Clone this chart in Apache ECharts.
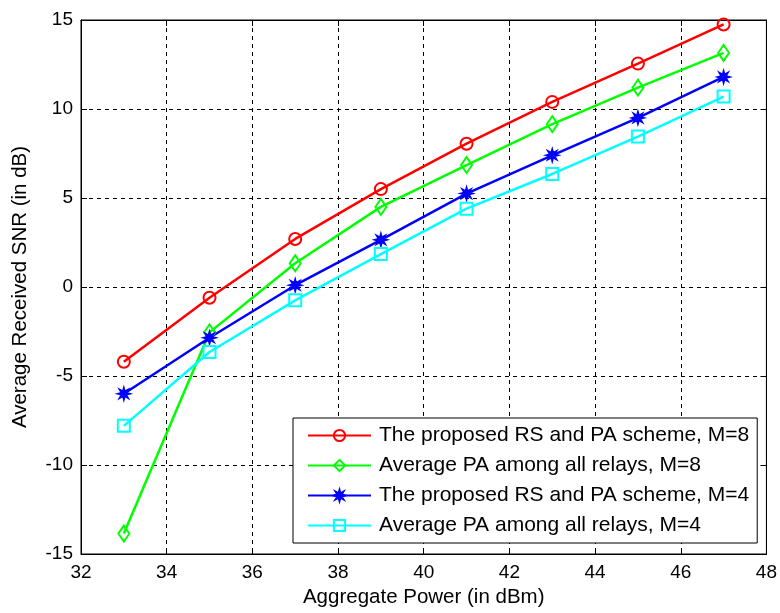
<!DOCTYPE html>
<html>
<head>
<meta charset="utf-8">
<script src="https://cdn.jsdelivr.net/npm/echarts@6/dist/echarts.min.js"></script>
<style>html,body{margin:0;padding:0;background:#fff;}#c{width:780px;height:613px;}</style>
</head>
<body>
<div id="c"></div>
<script>
const xValues = [33, 35, 37, 39, 41, 43, 45, 47];
const redM8 = [-4.2, -0.6, 2.7, 5.5, 8.05, 10.4, 12.55, 14.75];
const greenM8 = [-13.85, -2.55, 1.33, 4.5, 6.85, 9.15, 11.2, 13.15];
const blueM4 = [-6.0, -2.85, 0.1, 2.65, 5.25, 7.4, 9.5, 11.8];
const cyanM4 = [-7.8, -3.65, -0.75, 1.85, 4.4, 6.35, 8.45, 10.7];
const seriesNames = [
  'The proposed RS and PA scheme, M=8',
  'Average PA among all relays, M=8',
  'The proposed RS and PA scheme, M=4',
  'Average PA among all relays, M=4'
];
const xTicks = [32, 34, 36, 38, 40, 42, 44, 46, 48];
const yTicks = [-15, -10, -5, 0, 5, 10, 15];
const xTitle = 'Aggregate Power (in dBm)';
const yTitle = 'Average Received SNR (in dB)';

const FONT = '"Liberation Sans", Arial, sans-serif';
const pair = arr => xValues.map((x, i) => [x, arr[i]]);
const starPath = 'path://M10,0 L4,1.66 L7.07,7.07 L1.66,4 L0,10 L-1.66,4 L-7.07,7.07 L-4,1.66 L-10,0 L-4,-1.66 L-7.07,-7.07 L-1.66,-4 L0,-10 L1.66,-4 L7.07,-7.07 L4,-1.66 Z';

function mkSeries(name, data, color, symbol, size, filled) {
  return {
    name: name,
    type: 'line',
    data: pair(data),
    symbol: symbol,
    symbolSize: size,
    showSymbol: true,
    animation: false,
    lineStyle: { color: color, width: 2.5 },
    itemStyle: filled
      ? { color: color, borderColor: color, borderWidth: 1.5 }
      : { color: 'rgba(255,255,255,0)', borderColor: color, borderWidth: 2 },
    emphasis: { disabled: true }
  };
}

const chart = echarts.init(document.getElementById('c'), null, { renderer: 'canvas' });
const axisText = { color: '#000', fontFamily: FONT, fontSize: 19 };
const tickStyle = { show: true, inside: true, length: 6, lineStyle: { color: '#000' } };
chart.setOption({
  backgroundColor: '#fff',
  animation: false,
  grid: { left: 81, top: 20, right: 13, bottom: 59, show: true, borderColor: '#000', borderWidth: 1, containLabel: false },
  legend: {
    orient: 'vertical',
    left: 293,
    top: 418,
    padding: [7, 8, 7, 14],
    itemWidth: 63,
    itemHeight: 14,
    itemGap: 9,
    backgroundColor: '#fff',
    borderColor: '#000',
    borderWidth: 1,
    borderRadius: 0,
    textStyle: { color: '#000', fontFamily: FONT, fontSize: 21, padding: [0, 0, 0, 3] },
    data: seriesNames
  },
  xAxis: [{
    type: 'value', min: xTicks[0], max: xTicks[xTicks.length - 1], interval: 2,
    position: 'bottom',
    name: xTitle, nameLocation: 'middle', nameGap: 26,
    nameTextStyle: { color: '#000', fontFamily: FONT, fontSize: 20.5 },
    axisLine: { show: true, onZero: false, lineStyle: { color: '#000', width: 1 } },
    axisTick: tickStyle,
    axisLabel: Object.assign({ margin: 9 }, axisText),
    splitLine: { show: true, lineStyle: { color: '#000', type: [4, 4], width: 1 } }
  }, {
    type: 'value', min: xTicks[0], max: xTicks[xTicks.length - 1], interval: 2,
    position: 'top',
    axisLine: { show: true, onZero: false, lineStyle: { color: '#000' } },
    axisTick: tickStyle,
    axisLabel: { show: false }, splitLine: { show: false }
  }],
  yAxis: [{
    type: 'value', min: yTicks[0], max: yTicks[yTicks.length - 1], interval: 5,
    position: 'left',
    name: yTitle, nameLocation: 'middle', nameGap: 50,
    nameTextStyle: { color: '#000', fontFamily: FONT, fontSize: 20.5 },
    axisLine: { show: true, onZero: false, lineStyle: { color: '#000', width: 1 } },
    axisTick: tickStyle,
    axisLabel: Object.assign({ margin: 8 }, axisText),
    splitLine: { show: true, lineStyle: { color: '#000', type: [4, 4], width: 1 } }
  }, {
    type: 'value', min: yTicks[0], max: yTicks[yTicks.length - 1], interval: 5,
    position: 'right',
    axisLine: { show: true, onZero: false, lineStyle: { color: '#000' } },
    axisTick: tickStyle,
    axisLabel: { show: false }, splitLine: { show: false }
  }],
  series: [
    mkSeries(seriesNames[0], redM8, '#ff0000', 'circle', 12, false),
    mkSeries(seriesNames[1], greenM8, '#00ff00', 'diamond', [11, 16], false),
    mkSeries(seriesNames[2], blueM4, '#0000ff', starPath, 13, true),
    mkSeries(seriesNames[3], cyanM4, '#00ffff', 'rect', 12, false)
  ]
});
</script>
</body>
</html>
